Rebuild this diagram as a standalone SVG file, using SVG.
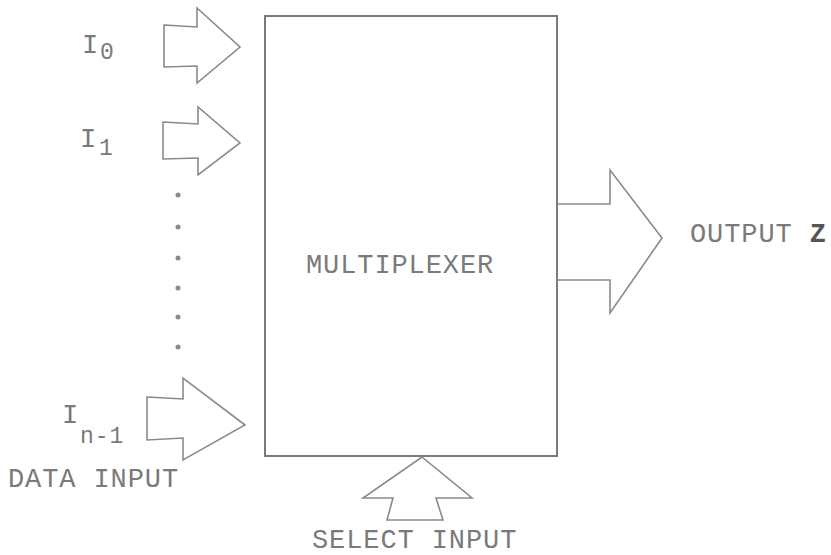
<svg xmlns="http://www.w3.org/2000/svg" width="831" height="555" viewBox="0 0 831 555">
<style>
.t{font-family:"Liberation Mono","DejaVu Sans Mono",monospace;font-size:27px;letter-spacing:0.9px;fill:#7a7a7a}
.s{font-size:23px;letter-spacing:1px}
.ar{fill:none;stroke:#8a8a8a;stroke-width:1.6;stroke-linejoin:miter}
.box{fill:none;stroke:#7a7a7a;stroke-width:2}
.dot{fill:#8a8a8a}
</style>
<rect width="831" height="555" fill="#ffffff"/>
<g id="mux">
<rect class="box" x="265" y="16" width="292" height="440"/>
<text class="t" x="306" y="273">MULTIPLEXER</text>
</g>
<g id="connectors">
<polygon class="ar" points="164,25 197,27 197,8 240,47 197,83 197,66 164,67"/>
<polygon class="ar" points="163,122 198,124 198,107 240,143 198,175 198,158 163,159"/>
<polygon class="ar" points="147,397 183,399 183,378 245,425 183,460 183,438 147,440"/>
<polyline class="ar" points="557,204 610,204 610,170 662,238 610,313 610,280 557,280"/>
<polygon class="ar" points="422,457 472,498 436,498 443,520 387,520 393,498 363,498"/>
<circle class="dot" cx="178" cy="195" r="2.5"/>
<circle class="dot" cx="178" cy="227" r="2.5"/>
<circle class="dot" cx="178" cy="258" r="2.5"/>
<circle class="dot" cx="178" cy="288" r="2.5"/>
<circle class="dot" cx="178" cy="317" r="2.5"/>
<circle class="dot" cx="178" cy="347" r="2.5"/>
</g>
<g id="i0"><text class="t" x="82" y="53">I<tspan class="s" x="100" y="59">0</tspan></text></g>
<g id="i1"><text class="t" x="80" y="147">I<tspan class="s" x="99" y="155">1</tspan></text></g>
<g id="in1"><text class="t" x="62" y="423">I<tspan class="s" x="80" y="443">n-1</tspan></text></g>
<g id="data"><text class="t" x="8" y="487">DATA INPUT</text></g>
<g id="output"><text class="t" x="690" y="242">OUTPUT <tspan font-weight="bold" fill="#555">Z</tspan></text></g>
<g id="select"><text class="t" x="312" y="548">SELECT INPUT</text></g>
</svg>
